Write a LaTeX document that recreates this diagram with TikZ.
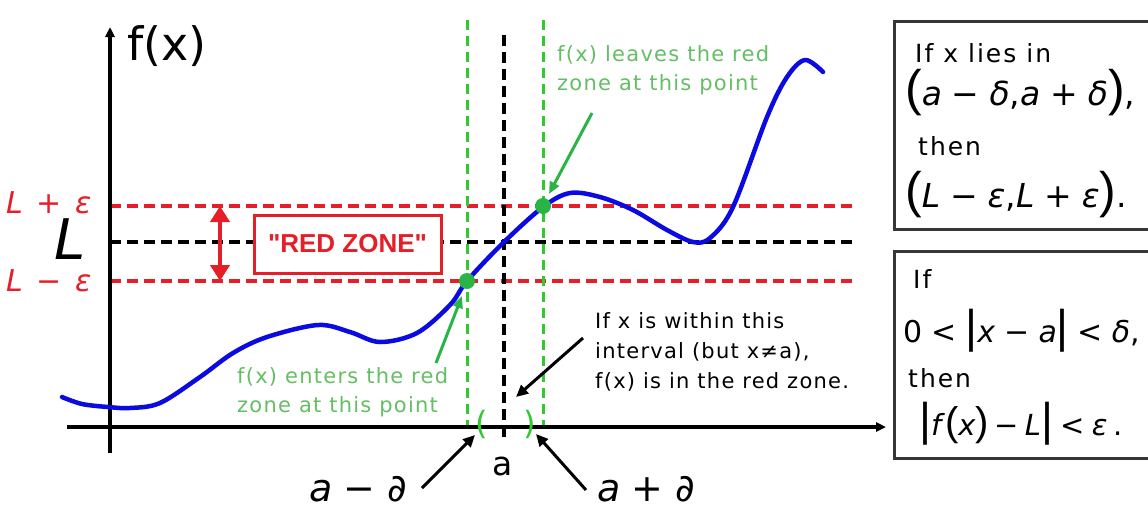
\documentclass[tikz,border=0pt]{standalone}
\usepackage{fontspec}
\setmainfont{DejaVu Sans}
\newfontfamily\lblfont[LetterSpace=6]{DejaVu Sans}
\newfontfamily\boxfont[LetterSpace=8]{DejaVu Sans}
\newfontfamily\zonefont{Liberation Sans}
\newfontfamily\parfont{Liberation Sans}
\usetikzlibrary{arrows.meta}
\definecolor{zred}{RGB}{230,30,40}
\definecolor{zgreen}{RGB}{50,200,50}
\definecolor{tgreen}{RGB}{100,190,100}
\definecolor{dotgreen}{RGB}{40,180,70}
\definecolor{cblue}{RGB}{10,10,225}
\definecolor{boxgray}{RGB}{55,55,55}
\newcommand\opsp{\hspace{.3em}}
\newcommand\fs[1]{\fontsize{#1}{#1}\selectfont}
\newcommand\bp[2]{{\parfont\fs{#1}#2}}
\begin{document}
\begin{tikzpicture}[x=1pt,y=-1pt,
  axisline/.style={line width=3.5pt,-{Triangle[length=10pt,width=9pt]}},
  reddash/.style={zred,line width=3.5pt,dash pattern=on 11pt off 6pt},
  blackdash/.style={black,line width=3.5pt,dash pattern=on 11pt off 6pt},
  greendash/.style={zgreen,line width=3pt,dash pattern=on 10pt off 6pt},
  curve/.style={cblue,line width=4.5pt,line cap=round,line join=round},
  gtext/.style={tgreen,font=\lblfont\fontsize{21}{29}\selectfont,align=left,anchor=north west,inner sep=0pt},
  ktext/.style={black,font=\lblfont\fontsize{21}{30}\selectfont,align=left,anchor=north west,inner sep=0pt},
  garrow/.style={dotgreen,line width=3pt,-{Triangle[length=12pt,width=10pt]}},
  karrow/.style={black,line width=3pt,-{Triangle[length=12pt,width=11pt]}},
  frame/.style={draw=boxgray,line width=2.5pt,fill=white,inner sep=0pt},
  btext/.style={anchor=base west,inner sep=0pt},
  dot/.style={circle,fill=dotgreen,minimum size=16pt,inner sep=0pt},
  mlabel/.style={inner sep=0pt,anchor=base west}
]
\useasboundingbox (0,0) rectangle (1148,512);
\clip (0,0) rectangle (1148,512);

% ---- right boxes
\node[frame,minimum width=290pt,minimum height=208pt,anchor=north west] (box1) at (893,20) {};
\node[frame,minimum width=290pt,minimum height=207pt,anchor=north west] (box2) at (893,250) {};
\node[btext] (b1l1) at (915,62) {\boxfont\fs{25}If x lies in};
\node[btext] (b1l2) at (905,105) {\fs{33}\bp{50}{(}\textit{a}\opsp−\opsp\textit{δ},\textit{a}\opsp+\opsp\textit{δ}\bp{50}{)},};
\node[btext] (b1l3) at (918,155) {\boxfont\fs{25}then};
\node[btext] (b1l4) at (905,207) {\fs{33}\bp{50}{(}\textit{L}\opsp−\opsp\textit{ε},\textit{L}\opsp+\opsp\textit{ε}\bp{50}{)}.};
\node[btext] (b2l1) at (913,288) {\boxfont\fs{25}If};
\node[btext] (b2l2) at (903,342) {\fs{30}0\opsp<\opsp\bp{46}{|}\textit{x}\opsp−\opsp\textit{a}\bp{46}{|}\opsp<\opsp\textit{δ},};
\node[btext] (b2l3) at (908,387) {\boxfont\fs{25}then};
\node[btext] (b2l4) at (919,435) {\fs{29}\bp{46}{|}\textit{f}\bp{40}{(}\textit{x}\bp{40}{)}\hspace{.2em}−\hspace{.2em}\textit{L}\bp{46}{|}\hspace{.25em}<\hspace{.25em}\textit{ε}\hspace{.2em}.};

% ---- horizontal dashed lines
\coordinate (hp0) at (110,206); \coordinate (hp1) at (855,206);
\coordinate (hl0) at (110,242); \coordinate (hl1) at (855,242);
\coordinate (hm0) at (110,281); \coordinate (hm1) at (855,281);
\draw[reddash] (hp0) -- (hp1);
\draw[reddash] (hm0) -- (hm1);
\draw[blackdash] (hl0) -- (hl1);

% ---- vertical dashed lines
\coordinate (gl0) at (467,20); \coordinate (gl1) at (467,427);
\coordinate (gr0) at (543,20); \coordinate (gr1) at (543,427);
\coordinate (va0) at (504,35); \coordinate (va1) at (504,439);
\draw[greendash] (gl0) -- (gl1);
\draw[greendash] (gr0) -- (gr1);
\draw[blackdash] (va0) -- (va1);

% ---- axes
\coordinate (yb) at (110,453); \coordinate (yt) at (110,27);
\coordinate (xl) at (67,427); \coordinate (xr) at (886,427);
\draw[axisline] (yb) -- (yt);
\draw[axisline] (xl) -- (xr);

% ---- curve
\draw[curve] plot[smooth,tension=0.55] coordinates {
 (62,397) (82,404) (108,407) (130,408) (160,403) (200,377) (233,353)
 (267,337) (318,325) (350,332) (380,342) (417,333) (450,305) (467,281)
 (503,243) (543,207) (570,193) (600,197) (633,210) (667,230) (693,242)
 (710,238) (733,207) (767,117) (787,77) (805,60) (823,72)};

% ---- red zone box and arrow
\node[draw=zred,line width=3pt,fill=white,minimum width=187pt,minimum height=58pt,inner sep=0pt,
      text=zred,font=\zonefont\bfseries\fs{26}] (zone) at (347.5,244) {"RED ZONE"};
\coordinate (ra0) at (220,206); \coordinate (ra1) at (220,281);
\draw[zred,line width=4pt,{Triangle[length=16pt,width=19pt]}-{Triangle[length=16pt,width=19pt]}] (ra0) -- (ra1);

% ---- dots
\node[dot] (enter) at (467,281) {};
\node[dot] (leave) at (543,206) {};

% ---- axis labels
\node[mlabel] (fx) at (127,60) {\fs{46}f(x)};
\node[mlabel,text=zred] (lp) at (6,213) {\fs{30}\textit{L}\hspace{.45em}+\hspace{.45em}\textit{ε}};
\node[mlabel] (lbl) at (54,259) {\fs{56}\textit{L}};
\node[mlabel,text=zred] (lm) at (6,291) {\fs{30}\textit{L}\hspace{.45em}−\hspace{.45em}\textit{ε}};
\node[inner sep=0pt,anchor=base] (alab) at (503,475) {\fs{33}a};
\node[inner sep=0pt,text=zgreen] (lpar) at (482,424) {\fs{32}(};
\node[inner sep=0pt,text=zgreen] (rpar) at (530,424) {\fs{32})};
\node[mlabel] (amd) at (309,501) {\fs{38}\textit{a}\opsp−\opsp\textit{∂}};
\node[mlabel] (apd) at (597,501) {\fs{38}\textit{a}\opsp+\opsp\textit{∂}};

% ---- annotation texts
\node[gtext] (leavetxt) at (557,45) {f(x) leaves the red\\zone at this point};
\node[gtext] (entertxt) at (237,367) {f(x) enters the red\\zone at this point};
\node[ktext] (inttxt) at (595,312) {If x is within this\\interval (but x≠a),\\f(x) is in the red zone.};

% ---- arrows
\coordinate (ga1s) at (592,113); \coordinate (ga1e) at (549,194);
\coordinate (ga2s) at (436,363); \coordinate (ga2e) at (462,296);
\coordinate (kas) at (583,338); \coordinate (kae) at (516,397);
\coordinate (las) at (422,488); \coordinate (lae) at (475,435);
\coordinate (ras) at (586,490); \coordinate (rae) at (536,434);
\draw[garrow] (ga1s) -- (ga1e);
\draw[garrow] (ga2s) -- (ga2e);
\draw[karrow] (kas) -- (kae);
\draw[karrow] (las) -- (lae);
\draw[karrow] (ras) -- (rae);
\end{tikzpicture}
\end{document}
